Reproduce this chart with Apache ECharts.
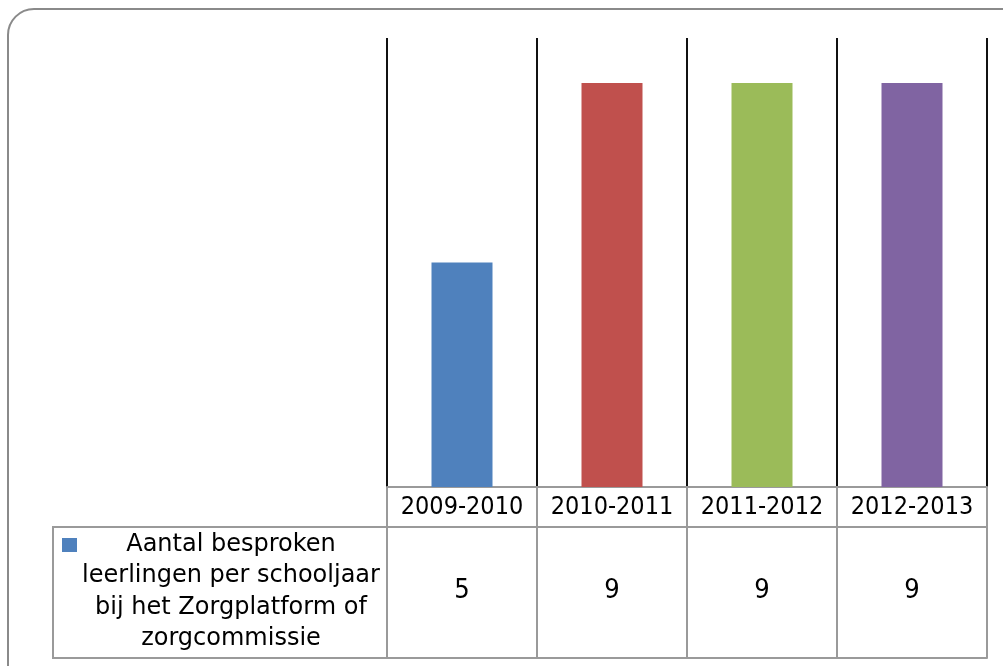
<!DOCTYPE html>
<html>
<head>
<meta charset="utf-8">
<script src="https://cdn.jsdelivr.net/npm/echarts@6/dist/echarts.min.js"></script>
<style>
html, body { margin: 0; padding: 0; background: #fff; }
#chart { width: 1003px; height: 666px; }
</style>
</head>
<body>
<div id="chart"></div>
<script>
var schooljaren = ['2009-2010', '2010-2011', '2011-2012', '2012-2013'];
var aantallen = [5, 9, 9, 9];
var reeksNaam = 'Aantal besproken leerlingen per schooljaar bij het Zorgplatform of zorgcommissie';
var reeksRegels = ['Aantal besproken', 'leerlingen per schooljaar', 'bij het Zorgplatform of', 'zorgcommissie'];
var kleuren = ['#4F81BD', '#C0504D', '#9BBB59', '#8064A2'];

var tabelLijn = '#9a9a9a';
var cijferFont = '"DejaVu Sans Condensed", "DejaVu Sans", sans-serif';

var chartDom = document.getElementById('chart');
var myChart = echarts.init(chartDom);
var option;

option = {
    animation: false,
    grid: [
        { left: 387, right: 16, top: 38, bottom: 179 },
        { left: 387, right: 16, top: 487, bottom: 8 }
    ],
    xAxis: [{
        type: 'category',
        gridIndex: 0,
        data: schooljaren,
        axisLine: { show: true, lineStyle: { color: tabelLijn, width: 2 } },
        axisTick: { show: false },
        splitLine: { show: true, interval: 0, lineStyle: { color: '#111', width: 2 } },
        axisLabel: {
            interval: 0,
            color: '#000',
            fontFamily: cijferFont,
            fontSize: 25,
            margin: 8
        }
    }, {
        // waarden-rij van de tabel
        type: 'category',
        gridIndex: 0,
        position: 'bottom',
        data: schooljaren,
        axisLine: { show: false },
        axisTick: { show: false },
        axisLabel: {
            interval: 0,
            color: '#000',
            fontFamily: cijferFont,
            fontSize: 27,
            margin: 90,
            formatter: function (v, i) {
                return String(aantallen[i]);
            }
        }
    }, {
        // rasterlijnen van de tabel
        type: 'category',
        gridIndex: 1,
        data: schooljaren,
        axisLine: { show: true, lineStyle: { color: tabelLijn, width: 2 } },
        axisTick: { show: false },
        axisLabel: { show: false },
        splitLine: { show: true, interval: 0, lineStyle: { color: tabelLijn, width: 2 } }
    }],
    yAxis: [
        { type: 'value', gridIndex: 0, min: 0, max: 10, show: false },
        { type: 'value', gridIndex: 1, min: 0, max: 1, show: false }
    ],
    series: [{
        name: reeksNaam,
        type: 'bar',
        xAxisIndex: 0,
        yAxisIndex: 0,
        data: aantallen,
        barWidth: 61,
        itemStyle: {
            color: function (p) {
                return kleuren[p.dataIndex];
            }
        }
    }],
    graphic: [
        {
            type: 'rect',
            shape: { x: 8, y: 9, width: 1040, height: 720, r: 26 },
            style: { fill: 'none', stroke: '#8a8a8a', lineWidth: 2 }
        },
        {
            type: 'polyline',
            shape: { points: [[987, 527], [53, 527], [53, 658], [387, 658]] },
            style: { fill: 'none', stroke: tabelLijn, lineWidth: 2 }
        },
        {
            type: 'rect',
            shape: { x: 62, y: 538, width: 15, height: 14 },
            style: { fill: kleuren[0] }
        },
        {
            type: 'text',
            style: {
                text: reeksRegels.join('\n'),
                x: 231,
                y: 592,
                align: 'center',
                verticalAlign: 'middle',
                fontFamily: '"DejaVu Sans", sans-serif',
                fontSize: 24,
                lineHeight: 31.5,
                fill: '#000'
            }
        }
    ]
};

myChart.setOption(option);
</script>
</body>
</html>
